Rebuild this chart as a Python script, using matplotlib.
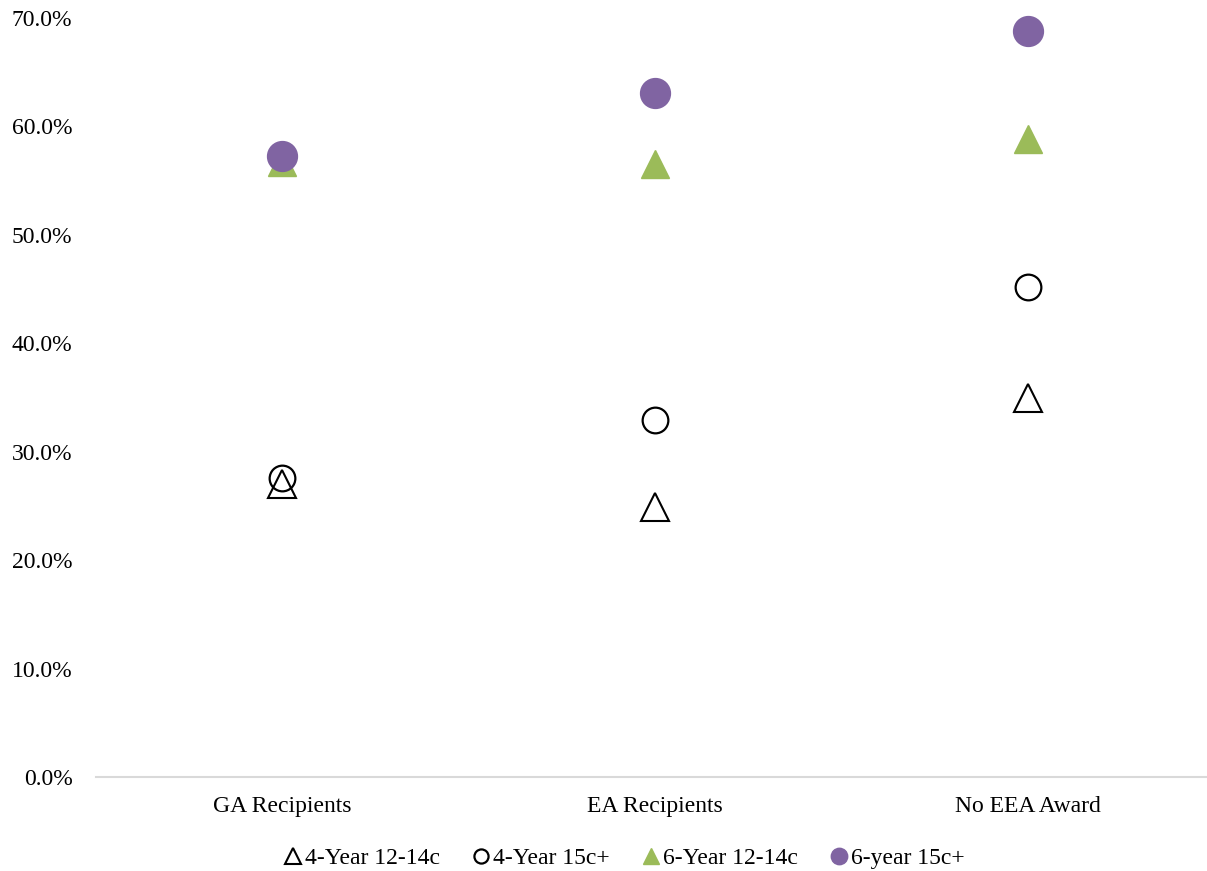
import matplotlib.pyplot as plt
from matplotlib.ticker import PercentFormatter

plt.rcParams['font.family'] = ['Liberation Serif', 'DejaVu Serif']

categories = ['GA Recipients', 'EA Recipients', 'No EEA Award']
four_year_12_14 = [27.0, 24.9, 35.0]
four_year_15 = [27.6, 32.9, 45.2]
six_year_12_14 = [56.7, 56.5, 58.8]
six_year_15 = [57.3, 63.1, 68.8]

fig = plt.figure(figsize=(12.07, 8.71), dpi=100)
ax = fig.add_axes([96 / 1207, 1 - 777 / 871, 1 - 96 / 1207, (777 - 18) / 871])

x = range(len(categories))
ax.plot(x, four_year_12_14, linestyle='none', marker='^', markersize=20,
        markerfacecolor='white', markeredgecolor='black', markeredgewidth=1.5,
        label='4-Year 12-14c', zorder=3, clip_on=False)
ax.plot(x, four_year_15, linestyle='none', marker='o', markersize=18.5,
        markerfacecolor='none', markeredgecolor='black', markeredgewidth=1.6,
        label='4-Year 15c+', zorder=4, clip_on=False)
ax.plot(x, six_year_12_14, linestyle='none', marker='^', markersize=20,
        color='#9BBB59', label='6-Year 12-14c', zorder=3, clip_on=False)
ax.plot(x, six_year_15, linestyle='none', marker='o', markersize=21.5,
        color='#8064A2', label='6-year 15c+', zorder=4, clip_on=False)

ax.set_xlim(-0.499, 2.48)
ax.set_ylim(0, 70)
ax.set_yticks(range(0, 71, 10))
ax.yaxis.set_major_formatter(PercentFormatter(decimals=1))
ax.set_xticks(list(x))
ax.set_xticklabels(categories)
ax.tick_params(axis='both', length=0, labelsize=17, colors='black')
ax.tick_params(axis='y', pad=17)
ax.tick_params(axis='x', pad=14)

for side in ['top', 'right', 'left']:
    ax.spines[side].set_visible(False)
ax.spines['bottom'].set_color('#D9D9D9')
ax.spines['bottom'].set_linewidth(1.5)

leg = ax.legend(loc='center', bbox_to_anchor=(0.474, -0.107), ncol=4, frameon=False,
                fontsize=17, handletextpad=0.0, columnspacing=1.25, markerscale=0.55,
                handlelength=1.0)

fig.savefig('out.png', dpi=100)
